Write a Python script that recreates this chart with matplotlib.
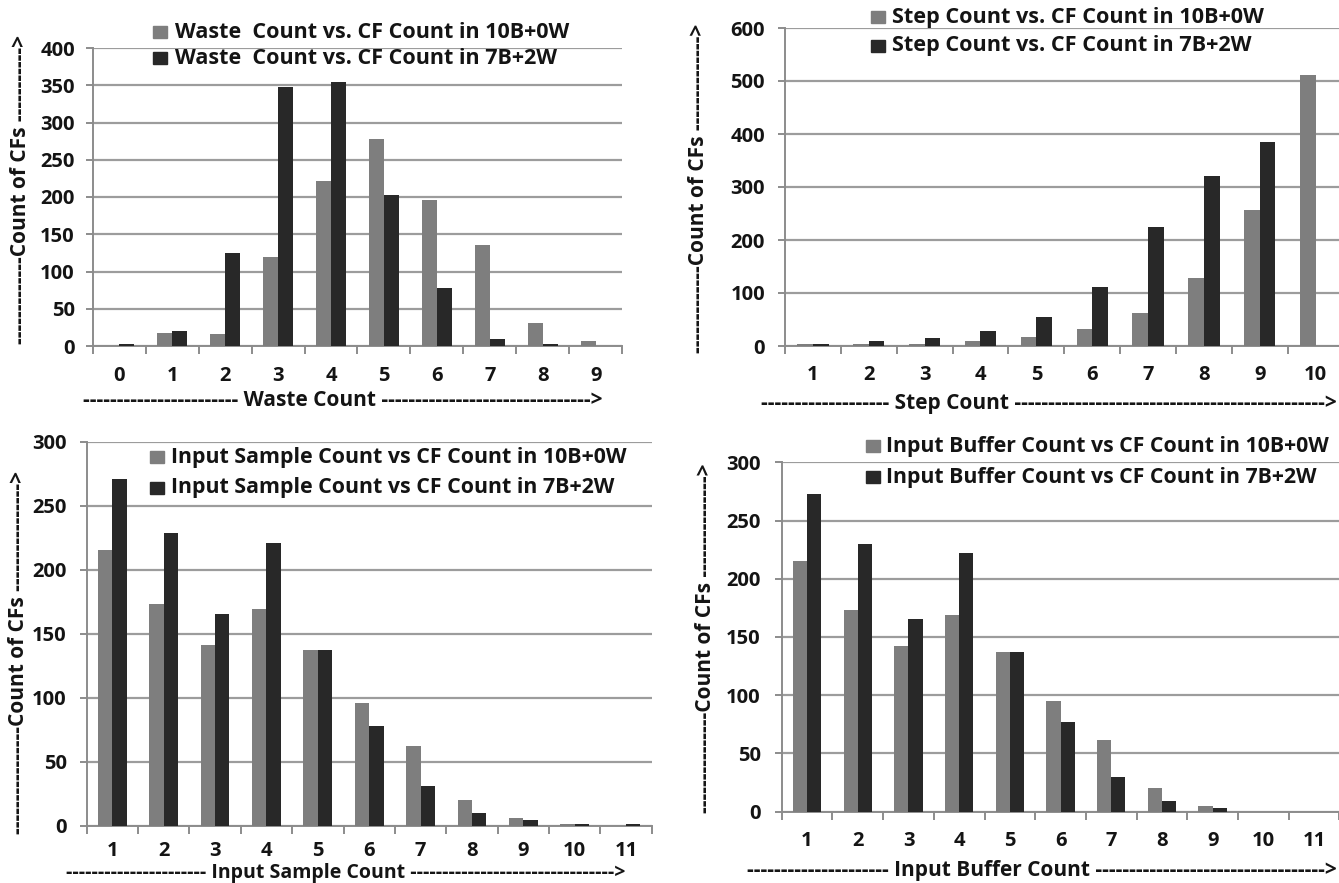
import matplotlib
matplotlib.use('Agg')
import matplotlib.pyplot as plt
from matplotlib.patches import Rectangle

# ---------------- data ----------------
waste_cats = ['0', '1', '2', '3', '4', '5', '6', '7', '8', '9']
waste_10b = [0, 18, 16, 120, 222, 278, 196, 135, 31, 7]
waste_7b = [3, 20, 125, 347, 354, 203, 78, 9, 3, 0]

step_cats = ['1', '2', '3', '4', '5', '6', '7', '8', '9', '10']
step_10b = [3, 3, 3, 9, 17, 33, 63, 128, 256, 511]
step_7b = [4, 9, 15, 28, 55, 111, 224, 320, 385, 0]

sample_cats = ['1', '2', '3', '4', '5', '6', '7', '8', '9', '10', '11']
sample_10b = [215, 173, 141, 169, 137, 96, 62, 20, 6, 1.5, 0]
sample_7b = [271, 229, 165, 221, 137, 78, 31, 10, 4, 1.5, 1.5]

buffer_cats = ['1', '2', '3', '4', '5', '6', '7', '8', '9', '10', '11']
buffer_10b = [215, 173, 142, 169, 137, 95, 61, 20, 5, 0, 0]
buffer_7b = [273, 230, 165, 222, 137, 77, 30, 9, 3, 0, 0]

waste_labels = ['Waste  Count vs. CF Count in 10B+0W', 'Waste  Count vs. CF Count in 7B+2W']
step_labels = ['Step Count vs. CF Count in 10B+0W', 'Step Count vs. CF Count in 7B+2W']
sample_labels = ['Input Sample Count vs CF Count in 10B+0W', 'Input Sample Count vs CF Count in 7B+2W']
buffer_labels = ['Input Buffer Count vs CF Count in 10B+0W', 'Input Buffer Count vs CF Count in 7B+2W']

ylab_p1 = '-------------Count of CFs ----------->'
ylab_p2 = '-------------Count of CFs -------------->'
ylab_p3 = '----------------Count of CFs ---------------->'
ylab_p4 = '---------------Count of CFs --------------->'
xlab_p1 = '----------------------- Waste Count ------------------------------->'
xlab_p2 = '------------------- Step Count ---------------------------------------------->'
xlab_p3 = '---------------------- Input Sample Count -------------------------------->'
xlab_p4 = '--------------------- Input Buffer Count ---------------------------------->'

# ---------------- style ----------------
W, H = 1339, 883
FONT = 'Open Sans'
GRAY = '#7e7e7e'
DARK = '#282828'
GRID = '#9c9c9c'
AXC = '#8c8c8c'
TXT = '#141414'
FS = 15

plt.rcParams['font.family'] = [FONT, 'DejaVu Sans']
plt.rcParams['font.weight'] = 'bold'

fig = plt.figure(figsize=(W / 100, H / 100), dpi=100)
renderer = fig.canvas.get_renderer()
PT = 72 / 100  # points per pixel


def fx(x):
    return x / W


def fy(y):
    return 1 - y / H


def panel(rect, cats, s1, s2, ymax, ystep, labels, leg, xlab, ylab, ylpad, xoff):
    left, right, top, bottom = rect
    ax = fig.add_axes([fx(left), fy(bottom), (right - left) / W, (bottom - top) / H])
    n = len(cats)
    x = list(range(n))
    bw = 0.28
    ax.bar([i - bw / 2 for i in x], s1, width=bw, color=GRAY, zorder=3)
    ax.bar([i + bw / 2 for i in x], s2, width=bw, color=DARK, zorder=3)
    ax.set_xlim(-0.5, n - 0.5)
    ax.set_ylim(0, ymax)
    ax.set_yticks(list(range(0, ymax + 1, ystep)))
    ax.set_xticks(x)
    ax.set_xticklabels(cats)
    ax.set_xticks([i - 0.5 for i in range(n + 1)], minor=True)
    ax.yaxis.grid(True, color=GRID, linewidth=1.6, zorder=0)
    ax.set_axisbelow(True)
    for s in ['top', 'right']:
        ax.spines[s].set_visible(False)
    for s in ['left', 'bottom']:
        ax.spines[s].set_color(AXC)
        ax.spines[s].set_linewidth(1.4)
    ax.tick_params(axis='x', which='major', length=0, pad=xoff * PT, labelsize=FS - 0.5,
                   labelcolor=TXT)
    ax.tick_params(axis='x', which='minor', length=6, width=1.4, color=AXC, direction='out')
    ax.tick_params(axis='y', which='major', length=5, width=1.4, color=AXC,
                   pad=ylpad * PT, labelsize=FS - 0.5, labelcolor=TXT)
    for t in ax.get_xticklabels():
        t.set_fontweight('bold')
        t.set_verticalalignment('center')
    for t in ax.get_yticklabels():
        t.set_fontweight('bold')
    # legend (manual)
    sqx, tx, r1, r2, tw = leg
    txts = []
    for yy, col, lab in [(r1, GRAY, labels[0]), (r2, DARK, labels[1])]:
        fig.patches.append(Rectangle((fx(sqx), fy(yy + 6)), 14 / W, 12 / H,
                                     transform=fig.transFigure, color=col))
        txts.append(fig.text(fx(tx), fy(yy), lab, ha='left', va='center', fontsize=FS,
                             fontweight='bold', color=TXT))
    w0 = txts[0].get_window_extent(renderer).width
    for t in txts:
        t.set_fontsize(FS * tw / w0)
    # axis titles
    xs, xc, xy, xva, xfs = xlab
    fig.text(fx(xc), fy(xy), xs, ha='center', va=xva, fontsize=xfs,
             fontweight='bold', color=TXT)
    ys, yx, yc = ylab
    fig.text(fx(yx), fy(yc), ys, ha='center', va='center', rotation=90,
             fontsize=FS, fontweight='bold', color=TXT)
    return ax


panel((92.7, 622.3, 48, 346), waste_cats, waste_10b, waste_7b, 400, 50, waste_labels,
      (153, 175, 32, 58, 395),
      (xlab_p1, 343, 400, 'center', FS),
      (ylab_p1, 21, 189), 11, 30)

panel((785, 1343.5, 28, 346), step_cats, step_10b, step_7b, 600, 100, step_labels,
      (871, 892, 17, 46, 372),
      (xlab_p2, 1049, 403, 'center', FS),
      (ylab_p2, 698, 188), 13, 29)

panel((86.7, 651.7, 441.7, 825.5), sample_cats, sample_10b, sample_7b, 300, 50, sample_labels,
      (150, 171, 457, 488, 457),
      (xlab_p3, 346, 878, 'baseline', 14),
      (ylab_p3, 19, 652), 13, 25)

panel((781.7, 1339.4, 462.3, 811.5), buffer_cats, buffer_10b, buffer_7b, 300, 50, buffer_labels,
      (866, 886, 446, 477, 444),
      (xlab_p4, 1042, 876, 'baseline', FS),
      (ylab_p4, 706, 638), 14, 30)

fig.savefig('out.png', dpi=100, facecolor='white')
